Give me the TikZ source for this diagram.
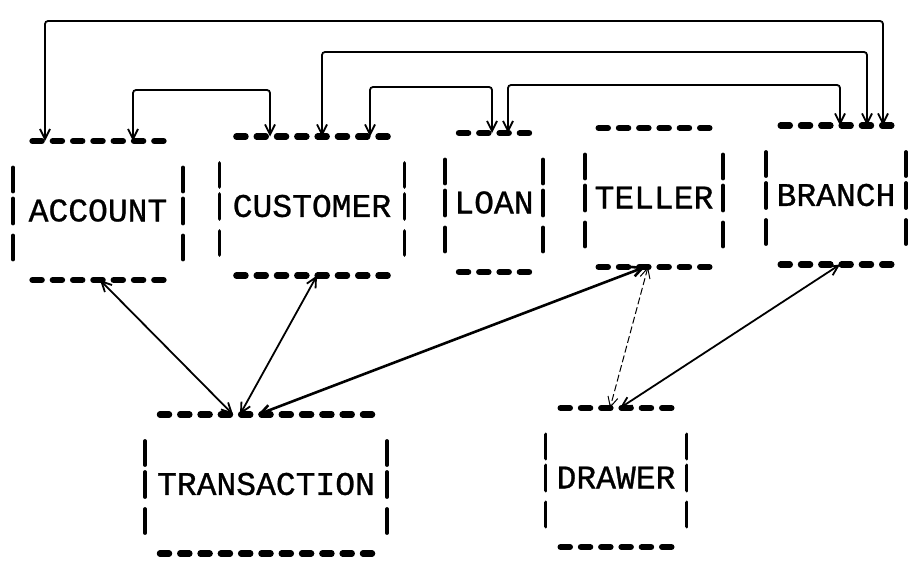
\documentclass[tikz,border=0pt]{standalone}
\usepackage{fontspec}
\newfontfamily\typewriter[FakeBold=0.8]{Liberation Mono}
\usetikzlibrary{arrows.meta,calc}

\tikzset{
  boxlabel/.style={font=\typewriter\fontsize{33}{33}\selectfont, inner sep=0pt, outer sep=0pt, minimum height=139pt},
  rowdash/.style={line width=6.2pt, line cap=round, dash pattern=on 9.3pt off 11pt},
  sidebar/.style={line width=3.8pt, line cap=round},
  barb/.tip={Straight Barb[length=10pt,width=10pt]},
  link/.style={line width=1.8pt, rounded corners=3pt, barb-barb},
}

% a record drawn like typed output: rows of dashes above and below, bars at the sides
% #1 name, #2 x, #3 y, #4 number of dashes, #5 half distance between the bars, #6 label
\newcommand{\typedbox}[6]{%
  \node[boxlabel, minimum width={2*#5pt}] (#1) at (#2,#3) {#6};
  \pgfmathsetmacro{\halfrow}{((#4-1)*20.3+9.3)/2}
  \draw[rowdash] ($(#1)+(-\halfrow,-69.5)$) -- ($(#1)+(\halfrow,-69.5)$);
  \draw[rowdash] ($(#1)+(-\halfrow,69.5)$) -- ($(#1)+(\halfrow,69.5)$);
  \foreach \s in {-1,1}{
    \foreach \a/\b in {-43/-19,-12/13,25/49}
      \draw[sidebar] ($(#1)+(\s*#5,\a)$) -- ($(#1)+(\s*#5,\b)$);
  }
}

\begin{document}
\begin{tikzpicture}[x=1pt,y=-1pt]
\useasboundingbox (0,0) rectangle (908,562);

\typedbox{acc}{98}{210.5}{7}{85}{ACCOUNT}
\typedbox{cus}{312}{206}{8}{92.5}{CUSTOMER}
\typedbox{loan}{494}{202.5}{4}{49}{LOAN}
\typedbox{tel}{654}{197.5}{6}{69}{TELLER}
\typedbox{bra}{836}{195}{6}{70}{BRANCH}
\typedbox{trn}{266}{484}{11}{121}{TRANSACTION}
\typedbox{drw}{616}{477.5}{6}{70.5}{DRAWER}

% heights of the routed links above the records
\coordinate (lvA) at (0,21);
\coordinate (lvD) at (0,52);
\coordinate (lvE) at (0,85);
\coordinate (lvC) at (0,87);
\coordinate (lvB) at (0,90);

% link ends on the upper rows
\coordinate (acc-a) at ([xshift=-53pt]acc.north);
\coordinate (acc-b) at ([xshift=35pt]acc.north);
\coordinate (cus-b) at ([xshift=-42pt]cus.north);
\coordinate (cus-d) at ([xshift=10pt]cus.north);
\coordinate (cus-c) at ([xshift=58pt]cus.north);
\coordinate (loan-c) at ([xshift=-2pt]loan.north);
\coordinate (loan-e) at ([xshift=14pt]loan.north);
\coordinate (bra-e) at ([xshift=4pt]bra.north);
\coordinate (bra-d) at ([xshift=31pt]bra.north);
\coordinate (bra-a) at ([xshift=47pt]bra.north);

\draw[link] (acc-a) -- (acc-a |- lvA) -- (bra-a |- lvA) -- (bra-a);
\draw[link] (cus-d) -- (cus-d |- lvD) -- (bra-d |- lvD) -- (bra-d);
\draw[link] (acc-b) -- (acc-b |- lvB) -- (cus-b |- lvB) -- (cus-b);
\draw[link] (cus-c) -- (cus-c |- lvC) -- (loan-c |- lvC) -- (loan-c);
\draw[link] (loan-e) -- (loan-e |- lvE) -- (bra-e |- lvE) -- (bra-e);

% links between the lower rows and the records below
\draw[link] ([xshift=2pt]acc.south) -- ([xshift=-33pt]trn.north);
\draw[link] ([xshift=5pt]cus.south) -- ([xshift=-26pt]trn.north);
\draw[link, line width=2.6pt] ([xshift=-9pt]tel.south) -- ([xshift=-8pt]trn.north);
\draw[link, line width=1pt, dash pattern=on 7pt off 3pt] ([xshift=-6pt]tel.south) -- ([xshift=-6pt]drw.north);
\draw[link] ([xshift=4pt]bra.south) -- ([xshift=4pt]drw.north);
\end{tikzpicture}
\end{document}
